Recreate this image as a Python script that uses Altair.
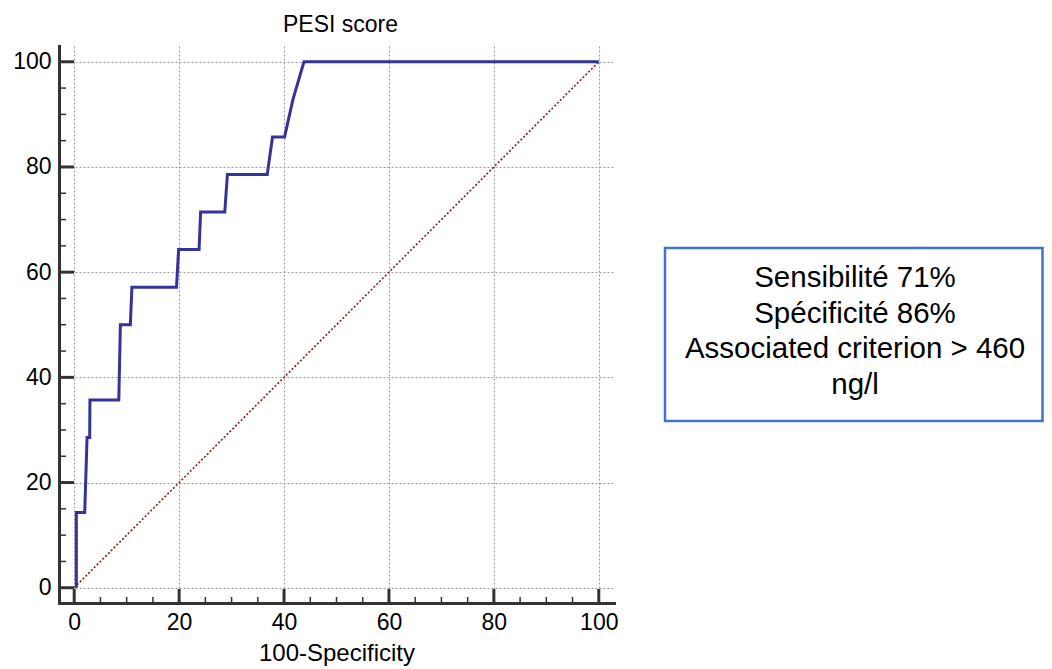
import altair as alt
import pandas as pd

# ---- data -------------------------------------------------------------
TITLE = "PESI score"
X_TITLE = "100-Specificity"
TICKS_MAJOR = [0, 20, 40, 60, 80, 100]
TICKS_MINOR = [5, 10, 15, 25, 30, 35, 45, 50, 55, 65, 70, 75, 85, 90, 95]

ROC_X = [0.4, 0.4, 2.0, 2.45, 2.95, 3.0, 8.5, 8.8, 10.7, 11.0, 19.5, 19.9,
         23.8, 24.1, 28.7, 29.2, 36.8, 37.8, 40.1, 41.7, 43.8, 100.0]
ROC_Y = [0.0, 14.29, 14.29, 28.57, 28.57, 35.71, 35.71, 50.0, 50.0, 57.14, 57.14, 64.29,
         64.29, 71.43, 71.43, 78.57, 78.57, 85.71, 85.71, 92.86, 100.0, 100.0]

DIAG_X = [0, 100]
DIAG_Y = [0, 100]

BOX_LINES = ["Sensibilité 71%", "Spécificité 86%", "Associated criterion > 460", "ng/l"]

# ---- styling ----------------------------------------------------------
FONT = "Liberation Sans"
W, H = 555, 557
XD = [-2.9, 102.9]
YD = [-2.9, 103.0]
AXC = "#333333"

xs = alt.Scale(domain=XD, nice=False, zero=False)
ys = alt.Scale(domain=YD, nice=False, zero=False)

common_axis = dict(
    values=TICKS_MAJOR, ticks=False, grid=True, gridDash=[2, 2], gridColor="#9a9a9a",
    gridWidth=1, domainColor=AXC, domainWidth=3, domainCap="square",
    labelFont=FONT, labelFontSize=23, labelColor="black",
)
x_axis = alt.Axis(title=X_TITLE, labelPadding=8, titleFont=FONT, titleFontSize=24,
                  titleFontWeight="normal", titleColor="black", titlePadding=7,
                  **common_axis)
y_axis = alt.Axis(title="", labelPadding=8, **common_axis)

roc_df = pd.DataFrame({"x": ROC_X, "y": ROC_Y, "i": list(range(len(ROC_X)))})
diag_df = pd.DataFrame({"x": DIAG_X, "y": DIAG_Y})
maj_df = pd.DataFrame({"v": TICKS_MAJOR})
min_df = pd.DataFrame({"v": TICKS_MINOR})
box_df = pd.DataFrame({"t": ["\n".join(BOX_LINES)]})

diag = alt.Chart(diag_df).mark_line(
    color="#8b1a1a", strokeWidth=1.6, strokeDash=[2, 2]
).encode(
    x=alt.X("x:Q", scale=xs, axis=x_axis),
    y=alt.Y("y:Q", scale=ys, axis=y_axis),
)

roc = alt.Chart(roc_df).mark_line(color="#333399", strokeWidth=3).encode(
    x=alt.X("x:Q", scale=xs, axis=x_axis),
    y=alt.Y("y:Q", scale=ys, axis=y_axis),
    order="i:Q",
)

x_major = alt.Chart(maj_df).mark_rule(color=AXC, strokeWidth=3).encode(
    x=alt.X("v:Q", scale=xs, axis=x_axis), y=alt.value(H), y2=alt.value(H - 14)
)
x_minor = alt.Chart(min_df).mark_rule(color=AXC, strokeWidth=1.5).encode(
    x=alt.X("v:Q", scale=xs, axis=x_axis), y=alt.value(H), y2=alt.value(H - 6)
)
y_major = alt.Chart(maj_df).mark_rule(color=AXC, strokeWidth=3).encode(
    y=alt.Y("v:Q", scale=ys, axis=y_axis), x=alt.value(0), x2=alt.value(15)
)
y_minor = alt.Chart(min_df).mark_rule(color=AXC, strokeWidth=1.5).encode(
    y=alt.Y("v:Q", scale=ys, axis=y_axis), x=alt.value(0), x2=alt.value(7)
)

box = alt.Chart(box_df).mark_rect(fill="white", stroke="#4472c4", strokeWidth=2.5).encode(
    x=alt.value(606), x2=alt.value(983.5), y=alt.value(202), y2=alt.value(375)
)
box_text = alt.Chart(box_df).mark_text(
    align="center", baseline="middle", lineBreak="\n", font=FONT, fontSize=29.5,
    lineHeight=35.7, color="black"
).encode(x=alt.value(796), y=alt.value(232), text="t:N")

chart = alt.layer(diag, roc, x_major, x_minor, y_major, y_minor, box, box_text).properties(
    width=W, height=H,
    title=alt.TitleParams(TITLE, font=FONT, fontSize=23, fontWeight="normal",
                          color="black", anchor="middle", offset=9, dx=4),
    autosize=alt.AutoSizeParams(type="none"),
    padding={"left": 51, "top": 38, "right": 430, "bottom": 64},
).configure_view(stroke=None)

chart.save("out.html", embed_options={"renderer": "svg", "actions": False})
